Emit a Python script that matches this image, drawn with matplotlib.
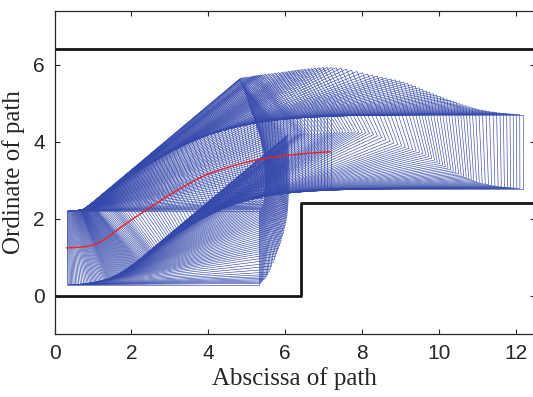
import numpy as np
import matplotlib
matplotlib.use("Agg")
import matplotlib.pyplot as plt

# reference path (rear centre of the vehicle) and heading
path_x = [0.32, 0.5, 0.69, 0.85, 1.0, 1.1, 1.2, 1.3, 1.4, 1.5, 1.6, 1.8, 2.0, 2.4, 2.8,
          3.3, 3.9, 4.5, 5.0, 5.5, 6.0, 6.6, 7.18]
path_y = [1.24, 1.245, 1.26, 1.28, 1.31, 1.35, 1.40, 1.46, 1.53, 1.60, 1.68, 1.83, 1.97,
          2.23, 2.5, 2.8, 3.12, 3.33, 3.47, 3.57, 3.64, 3.70, 3.74]
heading_deg = [0, 3, 9, 14, 19, 23, 27, 31, 34, 37, 40, 38.5, 37, 34, 31,
               27, 20, 15, 10, 6, 3, 1, 0]

# vehicle footprint
car_length = 5.0
car_width = 1.92
poses_per_seg = 7

# road boundaries
upper_wall_x = [0, 12.5]
upper_wall_y = [6.4, 6.4]
lower_wall_x = [0, 6.4, 6.4, 12.5]
lower_wall_y = [0, 0, 2.4, 2.4]

xticks = [0, 2, 4, 6, 8, 10, 12]
yticks = [0, 2, 4, 6]


def smooth(p, k):
    # cubic hermite through the waypoints, k samples per segment
    p = np.asarray(p, float)
    m = np.gradient(p)
    out = []
    for i in range(len(p) - 1):
        t = np.linspace(0, 1, k, endpoint=False)
        h00 = 2 * t**3 - 3 * t**2 + 1
        h10 = t**3 - 2 * t**2 + t
        h01 = -2 * t**3 + 3 * t**2
        h11 = t**3 - t**2
        out.append(h00 * p[i] + h10 * m[i] + h01 * p[i + 1] + h11 * m[i + 1])
    out.append([p[-1]])
    return np.concatenate(out)


def footprint(x, y, th):
    hw = car_width / 2
    c, s = np.cos(th), np.sin(th)
    rl = (x - hw * s, y + hw * c)
    rr = (x + hw * s, y - hw * c)
    fr = (rr[0] + car_length * c, rr[1] + car_length * s)
    fl = (rl[0] + car_length * c, rl[1] + car_length * s)
    pts = [rl, fl, fr, rr, rl]
    return [p[0] for p in pts], [p[1] for p in pts]


fig = plt.figure(figsize=(5.33, 3.97), dpi=100)
ax = fig.add_axes([54.5 / 533, 63 / 397, 480.8 / 533, 323 / 397])

xs = smooth(path_x, poses_per_seg)
ys = smooth(path_y, poses_per_seg)
ths = np.radians(smooth(heading_deg, poses_per_seg))

for x, y, th in zip(xs, ys, ths):
    rx, ry = footprint(x, y, th)
    ax.plot(rx, ry, color='#3549ab', lw=0.45)

ax.plot(xs, ys, color='#ee2222', lw=1.0)
ax.plot(upper_wall_x, upper_wall_y, color='#151515', lw=2.0)
ax.plot(lower_wall_x, lower_wall_y, color='#151515', lw=2.0)

ax.set_xlim(0, 12.5)
ax.set_ylim(-1, 7.4)
ax.set_xticks(xticks)
ax.set_yticks(yticks)
ax.tick_params(direction='in', top=True, right=True, length=3.5, width=0.8,
               colors='#262626', labelsize=15, pad=7)
for lab in ax.get_xticklabels() + ax.get_yticklabels():
    lab.set_family('Liberation Sans')
for sp in ax.spines.values():
    sp.set_color('#262626')
    sp.set_linewidth(0.9)

ax.set_xlabel('Abscissa of path', family='Liberation Serif', fontsize=18, color='#262626', labelpad=3)
ax.set_ylabel('Ordinate of path', family='Liberation Serif', fontsize=18, color='#262626', labelpad=6)

fig.savefig('out.png', dpi=100)
